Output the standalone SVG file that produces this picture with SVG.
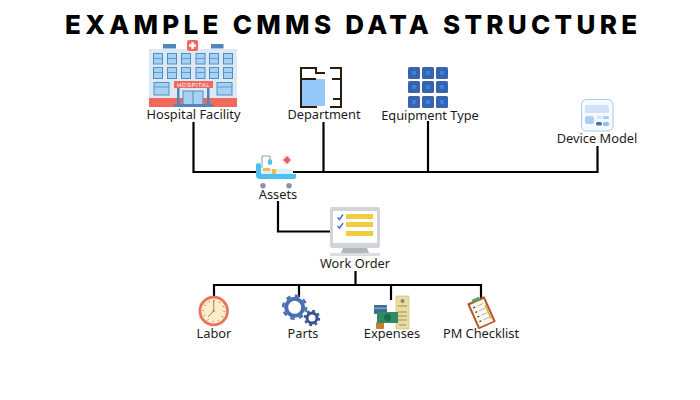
<svg xmlns="http://www.w3.org/2000/svg" width="700" height="400" viewBox="0 0 700 400">
<style>
.t{font-family:"Noto Sans","Open Sans",sans-serif;font-size:12.8px;fill:#1c1c1c;text-anchor:middle}
.title{font-family:"Inter","Liberation Sans",sans-serif;font-size:26px;font-weight:800;fill:#000}
.c{fill:none;stroke:#000;stroke-width:2.2}
.win{fill:#a6d1f2;stroke:#4f8fc2;stroke-width:1}
.wall{fill:none;stroke:#2a1d10;stroke-width:2}
.sq{fill:#3a62ad}
.dot{fill:#2f86e8}
.bar{fill:#f0cc3f}
.chk{fill:none;stroke:#4f6fd0;stroke-width:1.5}
.hand{stroke:#8a6a3a;stroke-width:.8;fill:none}
</style>
<rect width="700" height="400" fill="#fff"/>
<text class="title" x="65" y="34" textLength="572" lengthAdjust="spacing">EXAMPLE CMMS DATA STRUCTURE</text>
<g id="connectors">
<path class="c" d="M193.5 122V172H597.5V146"/>
<path class="c" d="M323.5 122V172"/>
<path class="c" d="M428 121V172"/>
<path class="c" d="M278 201V231.5H331"/>
<path class="c" d="M355.5 271V285"/>
<path class="c" d="M214 297V285H481V298"/>
<path class="c" d="M299 285V297"/>
<path class="c" d="M391 285V300"/>
</g>
<g id="hospital-facility">
<rect x="149" y="49" width="88" height="50" fill="#dce9f5"/>
<rect x="149" y="98" width="88" height="9" fill="#f0695c"/>
<rect x="163" y="44" width="13" height="4.5" fill="#4f86bd"/>
<rect x="211" y="44" width="12.500" height="4.500" fill="#4f86bd"/>
<rect x="187" y="40" width="11" height="11" rx="2" fill="#f0695c"/>
<path d="M192.500 42V49M189 45.500H196" stroke="#fff" stroke-width="2.400"/>
<g class="win">
<rect x="153.500" y="53.500" width="9" height="10.500"/><rect x="167.500" y="53.500" width="9" height="10.500"/><rect x="181.500" y="53.500" width="9" height="10.500"/><rect x="196" y="53.500" width="9" height="10.500"/><rect x="209.500" y="53.500" width="9" height="10.500"/><rect x="223.500" y="53.500" width="9" height="10.500"/>
<rect x="153.500" y="67.500" width="9" height="11"/><rect x="167.500" y="67.500" width="9" height="11"/><rect x="181.500" y="67.500" width="9" height="11"/><rect x="196" y="67.500" width="9" height="11"/><rect x="209.500" y="67.500" width="9" height="11"/><rect x="223.500" y="67.500" width="9" height="11"/>
<rect x="154" y="82.500" width="15" height="12.500"/><rect x="217" y="82.500" width="15" height="12.500"/>
</g>
<path d="M153.500 58.500H162.500M167.500 58.500H176.500M181.500 58.500H190.500M196 58.500H205M209.500 58.500H218.500M223.500 58.500H232.500M153.500 72.500H162.500M167.500 72.500H176.500M181.500 72.500H190.500M196 72.500H205M209.500 72.500H218.500M223.500 72.500H232.500M154 87H169M217 87H232" stroke="#4f8fc2" stroke-width=".8"/>
<rect x="183" y="91" width="20" height="14" fill="#a6d1f2" stroke="#4f8fc2"/>
<path d="M193 91V105" stroke="#4f8fc2"/>
<rect x="177" y="88" width="2.500" height="17" fill="#4f86bd"/>
<rect x="207" y="88" width="2.500" height="17" fill="#4f86bd"/>
<rect x="174" y="104" width="39" height="3" fill="#4f86bd"/>
<rect x="174" y="81" width="39" height="7" fill="#f0695c"/>
<text x="193.500" y="87" font-family="Liberation Sans,sans-serif" font-size="6" fill="#fff" text-anchor="middle" letter-spacing=".5">HOSPITAL</text>
<text class="t" x="193.500" y="119">Hospital Facility</text>
</g>
<g id="department">
<rect x="302" y="79" width="23" height="27" fill="#93c8f8"/>
<path class="wall" d="M317 68H301V107H317M302 79H316M316 68V73H325M330 68H341V107H330M332 79H341M333 99H341"/>
<text class="t" x="324" y="119">Department</text>
</g>
<g id="equipment-type">
<rect class="sq" x="408" y="67" width="12" height="12" rx="1.500"/><rect class="sq" x="422" y="67" width="12" height="12" rx="1.500"/><rect class="sq" x="436" y="67" width="12" height="12" rx="1.500"/>
<rect class="sq" x="408" y="81" width="12" height="12" rx="1.500"/><rect class="sq" x="422" y="81" width="12" height="12" rx="1.500"/><rect class="sq" x="436" y="81" width="12" height="12" rx="1.500"/>
<rect class="sq" x="408" y="96" width="12" height="12" rx="1.500"/><rect class="sq" x="422" y="96" width="12" height="12" rx="1.500"/><rect class="sq" x="436" y="96" width="12" height="12" rx="1.500"/>
<rect class="dot" x="412" y="71" width="4" height="4"/><rect class="dot" x="426" y="71" width="4" height="4"/><rect class="dot" x="440" y="71" width="4" height="4"/>
<rect class="dot" x="412" y="85" width="4" height="4"/><rect class="dot" x="426" y="85" width="4" height="4"/><rect class="dot" x="440" y="85" width="4" height="4"/>
<rect class="dot" x="412" y="100" width="4" height="4"/><rect class="dot" x="426" y="100" width="4" height="4"/><rect class="dot" x="440" y="100" width="4" height="4"/>
<text class="t" x="430" y="120">Equipment Type</text>
</g>
<g id="device-model">
<rect x="581.500" y="99.500" width="31.500" height="31.500" rx="5" fill="#f6fafe" stroke="#a8c8ea"/>
<rect x="585" y="105" width="24" height="8" rx="1.500" fill="#cfe2f7"/>
<rect x="585" y="116" width="9" height="8" rx="2.500" fill="#a8d0f5"/>
<rect x="597" y="116" width="5" height="3" fill="#d5e6f8"/>
<rect x="603" y="116" width="6" height="3" rx="1" fill="#a8d0f5"/>
<rect x="596" y="122" width="6" height="3.500" rx="1.500" fill="#3f74a8"/>
<rect x="603" y="122" width="6" height="4" rx="1.500" fill="#8fbde8"/>
<text class="t" x="597" y="143">Device Model</text>
</g>
<g id="assets">
<path d="M262 168V156H270V159" fill="none" stroke="#8f93a3" stroke-width=".9"/>
<rect x="268" y="159" width="4" height="6" rx="2" fill="#4cc0ee"/>
<path d="M287 156.500V163.500M283.500 160H290.500" stroke="#f25a62" stroke-width="3.200"/>
<rect x="261" y="169" width="32" height="6" fill="#d9effa"/>
<rect x="263" y="168" width="7" height="3" fill="#f0bb4a"/>
<rect x="272" y="169" width="4" height="5" rx="1" fill="#f0bb4a"/>
<path d="M256 165.500a2.500 2.500 0 0 1 5 0V174H296V177A2 2 0 0 1 294 179H260A4 4 0 0 1 256 175Z" fill="#4cc0ee"/>
<circle cx="263" cy="185.800" r="2.700" fill="#8a90a8"/>
<circle cx="289" cy="185.800" r="2.700" fill="#8a90a8"/>
<text class="t" x="278" y="199">Assets</text>
</g>
<g id="work-order">
<path d="M343 248H367L369 253H341Z" fill="#b4b6bd"/>
<rect x="330" y="253" width="50" height="3" rx="1" fill="#dcdde2"/>
<rect x="330" y="207" width="50" height="41" rx="2" fill="#d3d4da"/>
<rect x="333" y="211" width="44" height="32" fill="#fff"/>
<rect class="bar" x="346" y="214" width="27" height="5"/>
<rect class="bar" x="346" y="222" width="27" height="5"/>
<rect class="bar" x="346" y="231" width="27" height="5"/>
<path class="chk" d="M337.500 217.500L339.500 219.500L343 214.500M337.500 226L339.500 228L343 223"/>
<text class="t" x="355" y="268">Work Order</text>
</g>
<g id="labor">
<circle cx="213.700" cy="311" r="13.800" fill="#fdeecb" stroke="#e8735f" stroke-width="2.800"/>
<circle cx="213.700" cy="311" r="10.500" fill="none" stroke="#a67c45" stroke-width="1.600" stroke-dasharray=".8 4.700"/>
<path class="hand" d="M213.700 311V300M213.700 311L208 317"/>
<circle cx="213.700" cy="311" r="1.200" fill="#e8735f"/>
<text class="t" x="214" y="338">Labor</text>
</g>
<g id="parts">
<circle cx="294.700" cy="307.300" r="11.500" fill="none" stroke="#4a6fb5" stroke-width="2.500" stroke-dasharray="4.500 4.500"/>
<circle cx="294.700" cy="307.300" r="8.500" fill="none" stroke="#4a6fb5" stroke-width="4"/>
<circle cx="312" cy="318" r="7.200" fill="none" stroke="#34528f" stroke-width="2" stroke-dasharray="2.800 2.860"/>
<circle cx="312" cy="318" r="5" fill="none" stroke="#34528f" stroke-width="3"/>
<text class="t" x="303" y="338">Parts</text>
</g>
<g id="expenses">
<rect x="396" y="296" width="13" height="33" fill="#e9dca0" stroke="#c9b978" stroke-width=".6"/>
<circle cx="402.500" cy="301" r="2" fill="#8c8a70"/>
<path d="M398 306H407M398 312H407M398 316H407M398 320H407M399 325H406" stroke="#9a8f60" stroke-width="1.200"/>
<rect x="374" y="305" width="13" height="9" rx="1" fill="#3f6d90"/>
<rect x="374" y="307.500" width="13" height="1.500" fill="#7ea5c0"/>
<rect x="376" y="322" width="8" height="7" rx="1" fill="#c87f35"/>
<rect x="377" y="312" width="21" height="11" fill="#2f8a65"/>
<circle cx="387.500" cy="317.500" r="3.500" fill="#1e6a4c"/>
<text class="t" x="392" y="338">Expenses</text>
</g>
<g id="pm-checklist">
<g transform="rotate(-24 481.500 312.700)">
<rect x="472" y="298.700" width="19" height="28" rx="1" fill="#b5562e"/>
<rect x="474" y="301" width="15" height="24" fill="#fbf8ee"/>
<rect x="477.500" y="297" width="8" height="3.500" fill="#5fa05f"/>
<path d="M476 305H478M476 310H478M476 315H478M476 320H478" stroke="#333" stroke-width="1.200"/>
<path d="M480 305H487M480 310H487M480 315H487M480 320H487" stroke="#aaa" stroke-width=".8"/>
<path d="M488 307V322" stroke="#d5b23a" stroke-width="1.600"/>
</g>
<text class="t" x="481" y="338">PM Checklist</text>
</g>
</svg>
